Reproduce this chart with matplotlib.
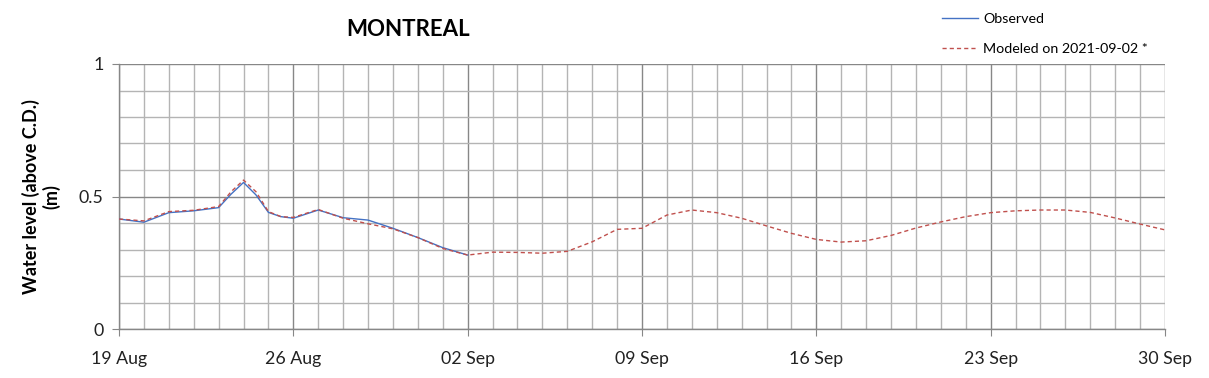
import matplotlib
matplotlib.use("Agg")
import matplotlib.pyplot as plt
import matplotlib.dates as mdates
import matplotlib.ticker as mticker
import numpy as np
import pandas as pd

# --- data ---
obs_dates = ["2021-08-19", "2021-08-20", "2021-08-21", "2021-08-22", "2021-08-23",
             "2021-08-23 12:00", "2021-08-24", "2021-08-24 12:00", "2021-08-25",
             "2021-08-25 12:00", "2021-08-26", "2021-08-27", "2021-08-28",
             "2021-08-29", "2021-08-30", "2021-08-31", "2021-09-01", "2021-09-02"]
obs_values = [0.415, 0.403, 0.439, 0.446, 0.458, 0.509, 0.553, 0.506, 0.440,
              0.424, 0.418, 0.449, 0.420, 0.411, 0.380, 0.345, 0.307, 0.279]

mod_dates = ["2021-08-19", "2021-08-20", "2021-08-21", "2021-08-22", "2021-08-23",
             "2021-08-23 12:00", "2021-08-24", "2021-08-24 12:00", "2021-08-25",
             "2021-08-25 12:00", "2021-08-26", "2021-08-27", "2021-08-28",
             "2021-08-29", "2021-08-30", "2021-08-31", "2021-09-01", "2021-09-02",
             "2021-09-03", "2021-09-04", "2021-09-05", "2021-09-06", "2021-09-07",
             "2021-09-08", "2021-09-09", "2021-09-10", "2021-09-11", "2021-09-12",
             "2021-09-13", "2021-09-14", "2021-09-15", "2021-09-16", "2021-09-17",
             "2021-09-18", "2021-09-19", "2021-09-20", "2021-09-21", "2021-09-22",
             "2021-09-23", "2021-09-24", "2021-09-25", "2021-09-26", "2021-09-27",
             "2021-09-28", "2021-09-29", "2021-09-30"]
mod_values = [0.415, 0.408, 0.443, 0.448, 0.462, 0.518, 0.562, 0.518, 0.443,
              0.424, 0.421, 0.451, 0.418, 0.397, 0.378, 0.345, 0.304, 0.279,
              0.290, 0.289, 0.286, 0.293, 0.329, 0.376, 0.380, 0.430, 0.449, 0.439,
              0.418, 0.389, 0.361, 0.338, 0.328, 0.333, 0.353, 0.381, 0.404, 0.424,
              0.439, 0.446, 0.449, 0.449, 0.440, 0.419, 0.396, 0.374]

x_start = "2021-08-19"
x_end = "2021-09-30"
title = "MONTREAL"
ylabel = "Water level (above C.D.)\n(m)"
obs_label = "Observed"
mod_label = "Modeled on 2021-09-02 *"

plt.rcParams['font.family'] = ['Lato', 'DejaVu Sans']

fig = plt.figure(figsize=(12.09, 3.78), dpi=100)
ax = fig.add_axes([119/1209, 1-329/378, (1165-119)/1209, (329-64)/378])

od = pd.to_datetime(obs_dates, format="mixed")
md = pd.to_datetime(mod_dates, format="mixed")

l1, = ax.plot(od, obs_values, color="#4472C4", lw=1.0, zorder=3, label=obs_label,
              solid_joinstyle="round")
l2, = ax.plot(md, mod_values, color="#C0504D", lw=1.0, ls=(0, (3, 2.2)), zorder=4,
              label=mod_label, dash_joinstyle="round")

ax.set_xlim(pd.Timestamp(x_start), pd.Timestamp(x_end))
ax.set_ylim(0, 1)

ax.xaxis.set_major_locator(mticker.FixedLocator(
    mdates.date2num(pd.date_range(x_start, x_end, freq="7D"))))
ax.xaxis.set_minor_locator(mticker.FixedLocator(
    mdates.date2num(pd.date_range(x_start, x_end, freq="1D"))))
ax.xaxis.set_major_formatter(mdates.DateFormatter("%d %b"))

ax.set_yticks([0, 0.5, 1])
ax.set_yticklabels(["0", "0.5", "1"])
ax.set_yticks(np.arange(0, 1.01, 0.1), minor=True)

ax.grid(which="major", color="#878787", lw=1.0, zorder=1)
ax.grid(which="minor", color="#b4b4b4", lw=1.0, zorder=0)

for s in ["top", "right"]:
    ax.spines[s].set_visible(False)
for s in ["left", "bottom"]:
    ax.spines[s].set_color("#878787")
    ax.spines[s].set_linewidth(1.0)

ax.tick_params(axis="both", which="major", length=5, color="#878787",
               labelsize=12.8, labelcolor="#222222")
ax.tick_params(axis="x", which="major", pad=11)
ax.tick_params(axis="y", which="major", pad=6)
ax.tick_params(which="minor", length=0)

ax.set_ylabel(ylabel, fontsize=13, fontweight="bold", labelpad=13, linespacing=1.2)

fig.text(408/1209, 1-30/378, title, fontsize=16, fontweight="bold",
         ha="center", va="center")

fig.legend(handles=[l1, l2], loc="upper left", bbox_to_anchor=(929/1209, 1),
           frameon=False, fontsize=10.3, handlelength=2.5, handletextpad=0.4,
           labelspacing=1.25)

fig.savefig("out.png", dpi=100)
